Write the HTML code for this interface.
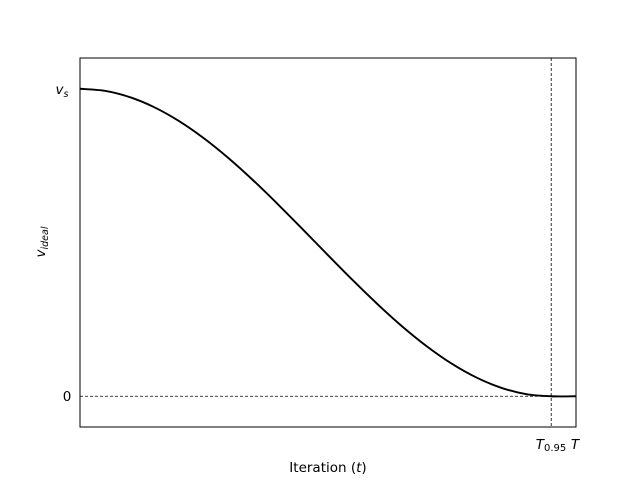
<!DOCTYPE html>
<html><head><meta charset="utf-8"><style>
body{margin:0;background:#fff}
svg{display:block;font-family:"DejaVu Sans","Liberation Sans",sans-serif}
</style></head><body>
<svg id="chart" width="640" height="480" viewBox="0 0 640 480">
<rect x="0" y="0" width="640" height="480" fill="#fff"/>
<g id="plot"></g>
<rect x="80" y="58" width="496" height="369" fill="none" stroke="#000" stroke-width="1"/>
<text x="62" y="94" font-size="13.5" font-style="italic" text-anchor="middle">v<tspan font-size="9.5" dy="3">s</tspan></text>
<text x="67" y="401" font-size="13.5" text-anchor="middle">0</text>
<text x="551" y="449" font-size="13.5" text-anchor="middle"><tspan font-style="italic">T</tspan><tspan font-size="10" dy="2">0.95</tspan></text>
<text x="575" y="449" font-size="13.5" font-style="italic" text-anchor="middle">T</text>
<text x="328" y="472" font-size="13.5" text-anchor="middle">Iteration (<tspan font-style="italic">t</tspan>)</text>
<text transform="translate(45,242) rotate(-90)" font-size="13.5" text-anchor="middle"><tspan font-style="italic">v</tspan><tspan font-size="9.5" font-style="italic" dy="3">ideal</tspan></text>
</svg>
<script>
const tValues=[0,0.05,0.1,0.15,0.2,0.25,0.3,0.35,0.4,0.45,0.5,0.55,0.6,0.65,0.7,0.75,0.8,0.85,0.9,0.95,1.0];
const vValues=[1,0.9932,0.9729,0.9397,0.8946,0.8386,0.7735,0.7008,0.6227,0.5413,0.4587,0.3773,0.2992,0.2265,0.1614,0.1054,0.0603,0.0271,0.0068,0,0];
const t95=[0.95];
const zeroLevel=[0];
const X0=80,X1=576,Y0=427,Y1=58,xmin=0,xmax=1,ymin=-0.1,ymax=1.1;
function xs(t){return X0+(t-xmin)/(xmax-xmin)*(X1-X0);}
function ys(v){return Y0-(v-ymin)/(ymax-ymin)*(Y0-Y1);}
const ns="http://www.w3.org/2000/svg",g=document.getElementById('plot');
const h=document.createElementNS(ns,'line');
h.setAttribute('x1',X0);h.setAttribute('x2',X1);h.setAttribute('y1',ys(zeroLevel[0]));h.setAttribute('y2',ys(zeroLevel[0]));
h.setAttribute('stroke','#000');h.setAttribute('stroke-width','0.8');h.setAttribute('stroke-dasharray','3,2');


g.appendChild(h);
const v=document.createElementNS(ns,'line');
v.setAttribute('x1',xs(t95[0]));v.setAttribute('x2',xs(t95[0]));v.setAttribute('y1',Y1);v.setAttribute('y2',Y0);
v.setAttribute('stroke','#000');v.setAttribute('stroke-width','0.8');v.setAttribute('stroke-dasharray','3,2');


g.appendChild(v);
const pts=tValues.map((t,i)=>[xs(t),ys(vValues[i])]);
let d='M'+pts[0][0]+','+pts[0][1];
for(let i=0;i<pts.length-1;i++){
 const p0=pts[Math.max(i-1,0)],p1=pts[i],p2=pts[i+1],p3=pts[Math.min(i+2,pts.length-1)];
 const c1=[p1[0]+(p2[0]-p0[0])/6,p1[1]+(p2[1]-p0[1])/6];
 const c2=[p2[0]-(p3[0]-p1[0])/6,p2[1]-(p3[1]-p1[1])/6];
 d+=' C'+c1[0]+','+c1[1]+' '+c2[0]+','+c2[1]+' '+p2[0]+','+p2[1];
}
const path=document.createElementNS(ns,'path');
path.setAttribute('d',d);path.setAttribute('fill','none');path.setAttribute('stroke','#000');path.setAttribute('stroke-width','1.9');


g.appendChild(path);
</script>
</body></html>
